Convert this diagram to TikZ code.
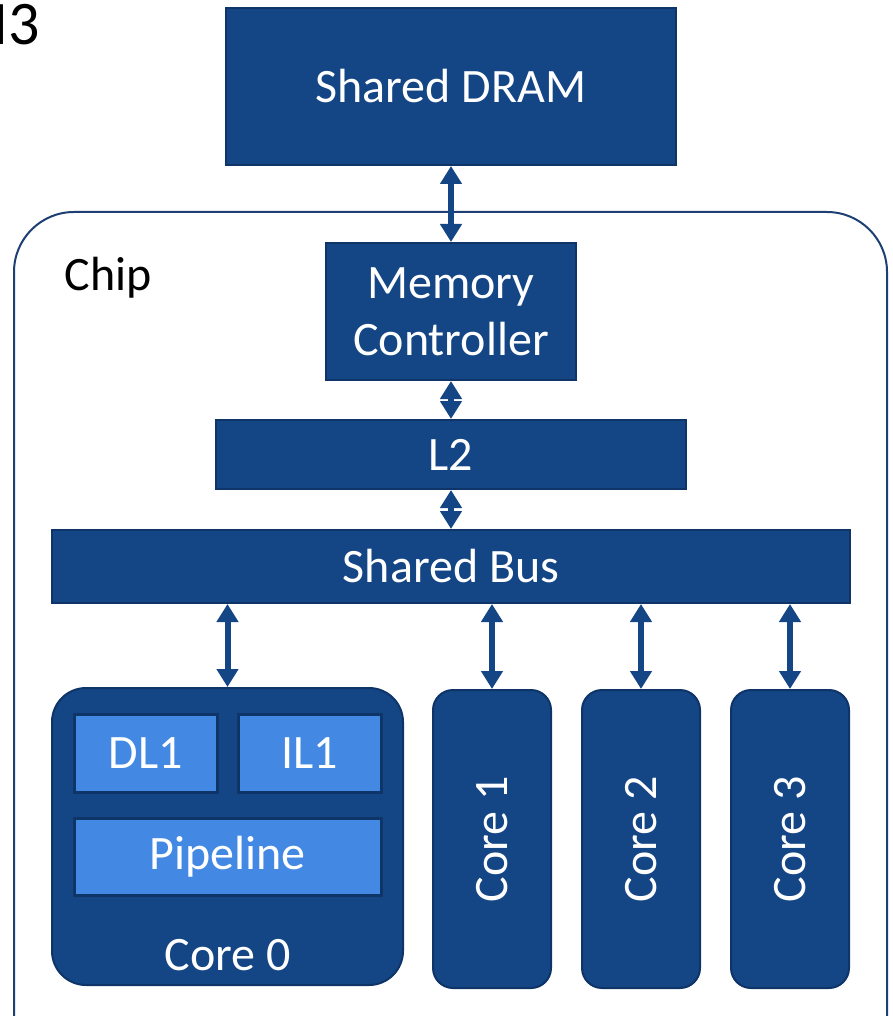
\documentclass[tikz,border=0pt]{standalone}
\usepackage{fontspec}
\setmainfont{Carlito}
\usetikzlibrary{arrows.meta}
\definecolor{blkFill}{HTML}{144584}
\definecolor{blkEdge}{HTML}{0E3468}
\definecolor{subFill}{HTML}{4389E3}
\definecolor{chipEdge}{HTML}{1D3F73}

\begin{document}
\begin{tikzpicture}[x=0.5pt, y=-0.5pt, font=\fontsize{24}{28.5}\selectfont,
  blk/.style={draw=blkEdge, fill=blkFill, text=white, line width=1pt, inner sep=0pt},
  sub/.style={draw=blkEdge, fill=subFill, text=white, line width=1.5pt, inner sep=0pt},
  core/.style={blk, rounded corners=10pt, minimum width=59pt, minimum height=149pt},
  link/.style={blkFill, line width=3pt, {Triangle[width=10.5pt,length=9pt]}-{Triangle[width=10.5pt,length=9pt]}}]
  \clip (0,0) rectangle (893,1016);
  % chip outline and the cut-off label
  \draw[chipEdge, line width=1pt, rounded corners=30pt] (14,212) rectangle (887,1080);
  \node[anchor=east, font=\fontsize{31}{36}\selectfont, inner sep=0pt] (tag) at (40,25) {M3};
  \node (chip) at (108,278) {Chip};
  % memory side
  \node[blk, minimum width=225pt, minimum height=78.5pt] (dram) at (451,86.5) {Shared DRAM};
  \node[blk, minimum width=125pt, minimum height=68.5pt, align=center] (mc) at (451,311.5) {Memory\\Controller};
  \node[blk, minimum width=235pt, minimum height=34.5pt] (l2) at (451,454.5) {L2};
  \node[blk, minimum width=399pt, minimum height=36.5pt] (bus) at (451,566.5) {Shared Bus};
  \draw[link] (dram.south) -- (mc.north);
  \draw[link] (mc.south) -- (l2.north);
  \draw[link] (l2.south) -- (bus.north);
  % core 0 with its parts
  \node[blk, rounded corners=17pt, minimum width=175.5pt, minimum height=148.5pt] (c0) at (227.5,836.5) {};
  \node[sub, minimum width=71.5pt, minimum height=39pt] (dl1) at (145.5,753) {DL1};
  \node[sub, minimum width=71.5pt, minimum height=39pt] (il1) at (309.5,753) {IL1};
  \node[sub, minimum width=153.5pt, minimum height=38.5pt] (pipe) at (227.5,857) {Pipeline};
  \node[text=white] (c0txt) at (227.5,955) {Core 0};
  \draw[link] (c0.north |- bus.south) -- (c0.north);
  % cores 1 to 3
  \foreach \x [count=\n] in {492,641,790} {
    \node[core] (c\n) at (\x,839) {};
    \node[text=white, rotate=90] (c\n txt) at (c\n) {Core \n};
    \draw[link] (c\n.north |- bus.south) -- (c\n.north);
  }
\end{tikzpicture}
\end{document}
